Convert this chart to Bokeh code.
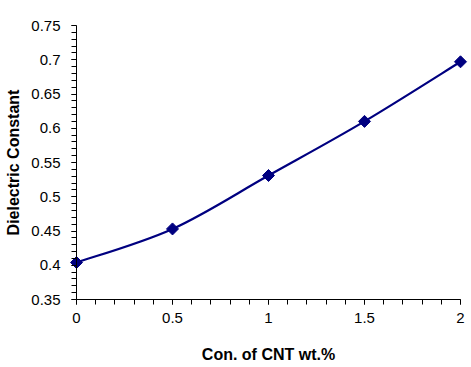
import numpy as np
from bokeh.plotting import figure
from bokeh.models import FixedTicker, Range1d, Span
from bokeh.embed import file_html
from bokeh.resources import INLINE

# Data
cnt_wt = [0.0, 0.5, 1.0, 1.5, 2.0]
dielectric = [0.404, 0.453, 0.531, 0.610, 0.697]
x_ticks = [0, 0.5, 1, 1.5, 2]
y_ticks = [0.35, 0.4, 0.45, 0.5, 0.55, 0.6, 0.65, 0.7, 0.75]

pad = 8 / 192.0   # 8 px of room so edge markers are not clipped
p = figure(width=471, height=367, output_backend="svg", toolbar_location=None,
           x_range=Range1d(-pad, 2 + pad), y_range=Range1d(0.35, 0.75),
           min_border_left=68, min_border_right=3, min_border_top=25, min_border_bottom=68)
p.outline_line_color = None
p.grid.grid_line_color = None
p.background_fill_color = "white"
p.border_fill_color = "white"

# y axis line at x = 0
p.add_layout(Span(location=0, dimension="height", line_color="black", line_width=1))

# Smoothed curve (Catmull-Rom style bezier, like spreadsheet smoothing) drawn as bezier glyphs
xs = np.array(cnt_wt); ys = np.array(dielectric)
n = len(xs)
x0s, y0s, x1s, y1s, cx0, cy0, cx1, cy1 = [], [], [], [], [], [], [], []
for i in range(n - 1):
    pm = i - 1 if i > 0 else i
    pp = i + 2 if i + 2 < n else i + 1
    x0s.append(xs[i]); y0s.append(ys[i]); x1s.append(xs[i+1]); y1s.append(ys[i+1])
    cx0.append(xs[i] + (xs[i+1] - xs[pm]) / 6); cy0.append(ys[i] + (ys[i+1] - ys[pm]) / 6)
    cx1.append(xs[i+1] - (xs[pp] - xs[i]) / 6); cy1.append(ys[i+1] - (ys[pp] - ys[i]) / 6)
p.bezier(x0=x0s, y0=y0s, x1=x1s, y1=y1s, cx0=cx0, cy0=cy0, cx1=cx1, cy1=cy1,
         line_color="#000080", line_width=2.2)
p.scatter(cnt_wt, dielectric, marker="square", angle=np.pi / 4, size=8.5,
          fill_color="#000080", line_color="#000080")

for ax in (p.xaxis[0], p.yaxis[0]):
    ax.axis_line_color = "black"
    ax.major_tick_line_color = "black"
    ax.minor_tick_line_color = "black"
    ax.major_tick_in = 0
    ax.major_tick_out = 5
    ax.minor_tick_in = 0
    ax.minor_tick_out = 5
    ax.major_label_text_font = "Liberation Sans"
    ax.major_label_text_font_size = "15px"
    ax.major_label_text_color = "black"
    ax.axis_label_text_font = "Liberation Sans"
    ax.axis_label_text_font_size = "16px"
    ax.axis_label_text_font_style = "bold"
    ax.axis_label_text_color = "black"

# y axis sits 8 px left of x = 0: shift its ticks so they hang off x = 0
yax = p.yaxis[0]
yax.axis_line_color = None
yax.major_tick_in = 8
yax.major_tick_out = -3
yax.minor_tick_in = 8
yax.minor_tick_out = -3

p.xaxis.bounds = (0, 2)
p.xaxis.ticker = FixedTicker(ticks=x_ticks, minor_ticks=[round(0.1 * i, 2) for i in range(21)])
p.yaxis.ticker = FixedTicker(ticks=y_ticks, minor_ticks=[round(0.35 + 0.01 * i, 2) for i in range(41)])
p.xaxis.major_label_overrides = {0: "0", 0.5: "0.5", 1: "1", 1.5: "1.5", 2: "2"}
p.yaxis.major_label_overrides = {0.35: "0.35", 0.4: "0.4", 0.45: "0.45", 0.5: "0.5", 0.55: "0.55",
                                 0.6: "0.6", 0.65: "0.65", 0.7: "0.7", 0.75: "0.75"}
p.xaxis.axis_label = "Con. of CNT wt.%"
p.yaxis.axis_label = "Dielectric Constant"
p.xaxis.major_label_standoff = 8
p.yaxis.major_label_standoff = 11
p.xaxis.axis_label_standoff = 20
p.yaxis.axis_label_standoff = 6

open("out.html", "w").write(file_html(p, INLINE))
